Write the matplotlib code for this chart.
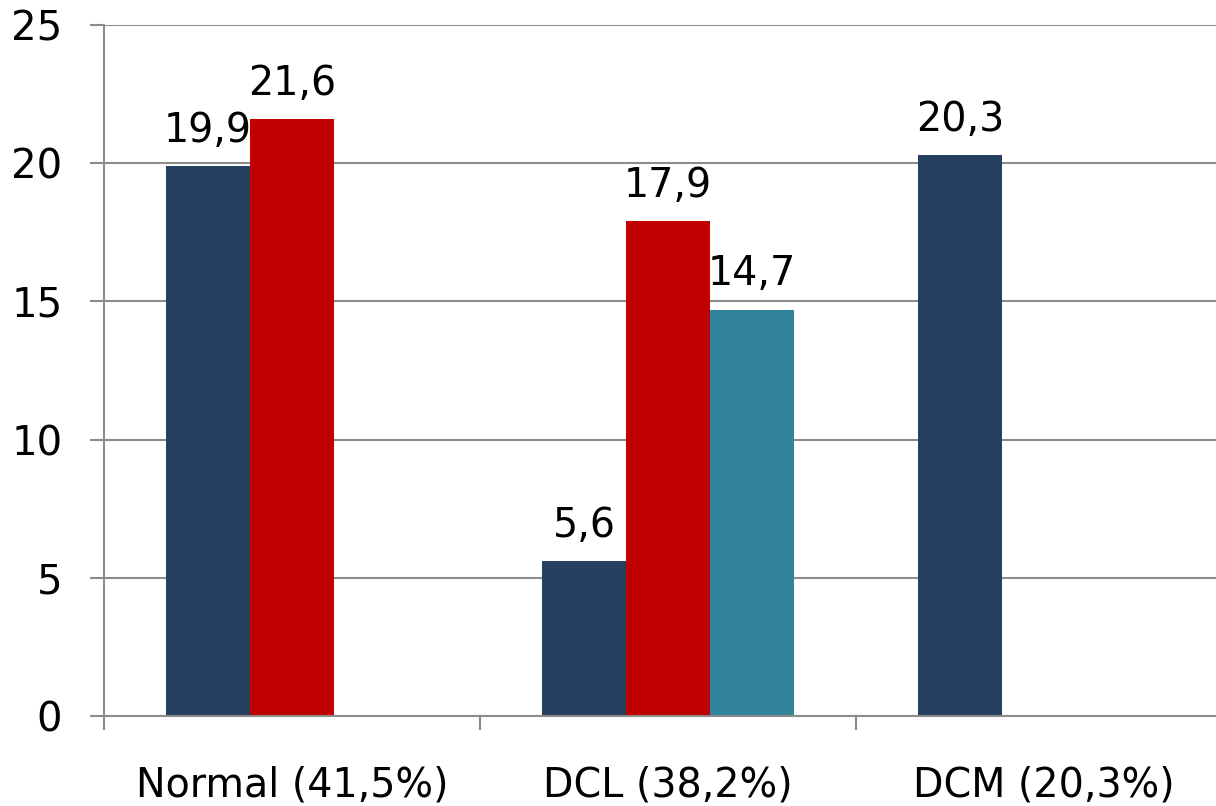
import numpy as np
import matplotlib.pyplot as plt
from matplotlib.ticker import FixedLocator

categories = ["Normal (41,5%)", "DCL (38,2%)", "DCM (20,3%)"]
series_navy = [19.9, 5.6, 20.3]
series_red = [21.6, 17.9, np.nan]
series_teal = [np.nan, 14.7, np.nan]

colors = ["#264061", "#C00000", "#31849B"]
grid_color = "#8c8c8c"

plt.rcParams['font.family'] = ['DejaVu Sans']

fig = plt.figure(figsize=(12.16, 8.06), dpi=100)
# the plot area runs past the right edge of the figure
ax = fig.add_axes([104 / 1216, 90 / 806, 1128 / 1216, 691 / 806])

x = np.arange(len(categories))
bw = 0.2234
for offset, vals, col in zip((-bw, 0, bw), (series_navy, series_red, series_teal), colors):
    bars = ax.bar(x + offset, vals, width=bw, color=col, zorder=3)
    for rect, v in zip(bars, vals):
        if np.isnan(v):
            continue
        ax.text(rect.get_x() + rect.get_width() / 2, v + 0.55, f"{v:.1f}".replace(".", ","),
                ha="center", va="bottom", fontsize=28.5, color="black", zorder=4)

ax.set_xlim(-0.5, 2.5)
ax.set_ylim(0, 25)
ax.set_yticks([0, 5, 10, 15, 20, 25])
ax.set_yticklabels(["0", "5", "10", "15", "20", "25"], fontsize=29)
ax.yaxis.grid(True, color=grid_color, linewidth=1.5, zorder=0)
ax.tick_params(axis="y", length=10, width=1.5, color=grid_color, pad=20)

# category boundaries carry the tick marks, centres carry the labels
ax.xaxis.set_major_locator(FixedLocator([-0.5, 0.5, 1.5, 2.5]))
ax.set_xticklabels([])
ax.xaxis.set_minor_locator(FixedLocator(x))
ax.set_xticklabels(categories, minor=True, fontsize=28.5)
ax.tick_params(axis="x", which="minor", length=0, pad=36)
ax.tick_params(axis="x", which="major", length=10, width=1.5, color=grid_color)

for side in ("top", "right"):
    ax.spines[side].set_visible(False)
for side in ("left", "bottom"):
    ax.spines[side].set_color(grid_color)
    ax.spines[side].set_linewidth(1.5)
    ax.spines[side].set_zorder(5)

fig.savefig("out.png", dpi=100)
